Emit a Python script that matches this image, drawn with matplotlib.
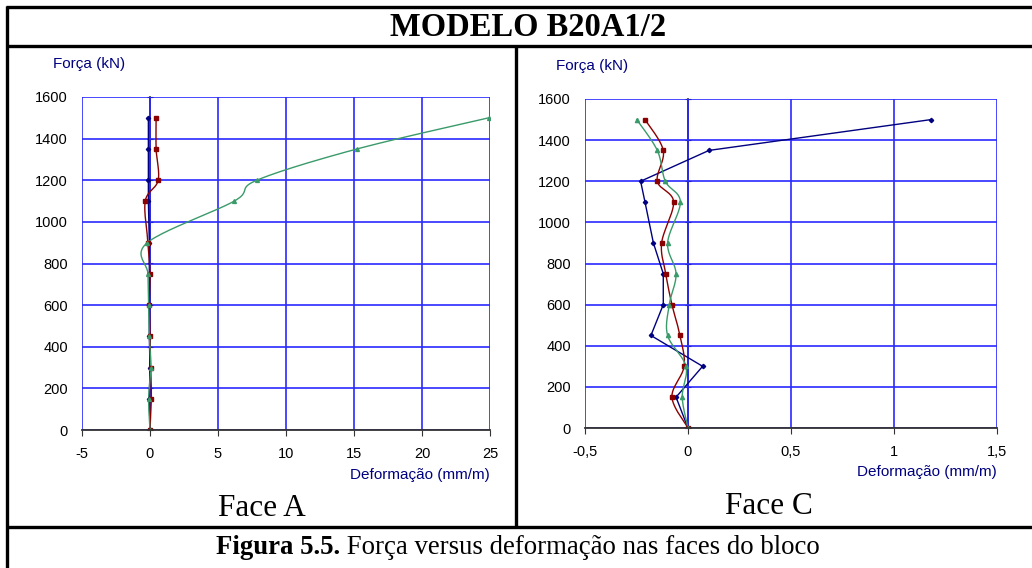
import numpy as np
import matplotlib
matplotlib.use('Agg')
from matplotlib import pyplot as plt
from matplotlib.lines import Line2D

plt.rcParams['font.family'] = ['Liberation Sans', 'DejaVu Sans']

# Força aplicada em cada leitura (kN)
forca = [0, 150, 300, 450, 600, 750, 900, 1100, 1200, 1350, 1500]

# Face A - deformações (mm/m)
faceA_azul = [0, -0.05, 0, -0.05, -0.05, -0.05, -0.05, -0.12, -0.12, -0.12, -0.12]
faceA_verm = [0, 0.1, 0.05, 0, -0.05, 0, -0.15, -0.35, 0.6, 0.45, 0.45]
faceA_verde = [0, -0.1, 0.05, -0.05, -0.1, -0.15, -0.2, 6.2, 7.85, 15.2, 24.9]

# Face C - deformações (mm/m)
faceC_azul = [0, -0.058, 0.071, -0.18, -0.12, -0.12, -0.168, -0.209, -0.23, 0.102, 1.181]
faceC_verm = [0, -0.078, -0.019, -0.039, -0.078, -0.108, -0.128, -0.07, -0.149, -0.12, -0.209]
faceC_verde = [0, -0.028, -0.01, -0.099, -0.091, -0.058, -0.099, -0.037, -0.11, -0.149, -0.249]

xticksA = [-5, 0, 5, 10, 15, 20, 25]
xticksC = [-0.5, 0, 0.5, 1, 1.5]
xlabelsC = ['-0,5', '0', '0,5', '1', '1,5']
yticks = [0, 200, 400, 600, 800, 1000, 1200, 1400, 1600]

AZUL = '#000080'
VERM = '#8b0000'
VERDE = '#3a9a6a'
GRADE = '#2a2aff'


def suaviza(ax, xs, ys, n=24):
    # curva suave tipo Excel: Bezier com pontos de controle de Catmull-Rom,
    # calculada em coordenadas de tela
    pts = ax.transData.transform(np.column_stack([xs, ys]))
    p = np.vstack([pts[0], pts, pts[-1]])
    t = np.linspace(0, 1, n)[:, None]
    out = [pts[:1]]
    for i in range(1, len(p) - 2):
        p0, p1, p2, p3 = p[i - 1], p[i], p[i + 1], p[i + 2]
        c1 = p1 + (p2 - p0) / 6
        c2 = p2 - (p3 - p1) / 6
        seg = ((1 - t) ** 3) * p1 + 3 * ((1 - t) ** 2) * t * c1 \
            + 3 * (1 - t) * t ** 2 * c2 + t ** 3 * p2
        out.append(seg[1:])
    curva = ax.transData.inverted().transform(np.vstack(out))
    return curva[:, 0], curva[:, 1]


def serie(ax, xs, ys, cor, marcador, ms, suave=True):
    if suave:
        cx, cy = suaviza(ax, xs, ys)
        ax.plot(cx, cy, color=cor, lw=1.0, zorder=3)
    else:
        ax.plot(xs, ys, color=cor, lw=1.0, zorder=3)
    ax.plot(xs, ys, ls='none', marker=marcador, ms=ms, color=cor, zorder=4)


def prepara(ax, xlim, xticks, xlabels):
    ax.set_xlim(xlim)
    ax.set_ylim(0, 1600)
    ax.set_xticks(xticks)
    ax.set_xticklabels(xlabels, fontsize=10.5)
    ax.set_yticks(yticks)
    ax.set_yticklabels([str(v) for v in yticks], fontsize=10.5)
    ax.grid(True, color=GRADE, lw=1.2)
    ax.set_axisbelow(True)
    for lado in ['top', 'right', 'left']:
        ax.spines[lado].set_visible(False)
    ax.spines['bottom'].set_color('#333333')
    ax.spines['bottom'].set_linewidth(1.3)
    ax.spines['bottom'].set_zorder(5)
    ax.tick_params(axis='y', length=0, pad=10)
    ax.tick_params(axis='x', length=4, direction='out', pad=8, color='#333333')
    # eixo vertical em x = 0, com marcas de escala
    pos0 = (0 - xlim[0]) / (xlim[1] - xlim[0])
    eixo = ax.secondary_yaxis(pos0)
    eixo.set_yticks(yticks)
    eixo.tick_params(length=5, direction='inout', labelleft=False, labelright=False,
                     color='black')
    eixo.spines['left'].set_color('black')
    eixo.spines['left'].set_linewidth(1.1)


fig = plt.figure(figsize=(10.32, 5.68), dpi=100)

axA = fig.add_axes([82 / 1032, 1 - 430 / 568, 408 / 1032, 333 / 568])
axC = fig.add_axes([585 / 1032, 1 - 428 / 568, 412 / 1032, 329 / 568])

prepara(axA, (-5, 25), xticksA, [str(v) for v in xticksA])
prepara(axC, (-0.5, 1.5), xticksC, xlabelsC)

serie(axA, faceA_azul, forca, AZUL, 'D', 2.2, suave=False)
serie(axA, faceA_verm, forca, VERM, 's', 3)
serie(axA, faceA_verde, forca, VERDE, '^', 2.8)

serie(axC, faceC_azul, forca, AZUL, 'D', 2.2, suave=False)
serie(axC, faceC_verm, forca, VERM, 's', 3.2)
serie(axC, faceC_verde, forca, VERDE, '^', 3)

for ax in (axA, axC):
    ax.text(1.0, -0.135, 'Deformação (mm/m)', transform=ax.transAxes,
            ha='right', va='center', fontsize=11, color=AZUL)
    ax.text(-0.07, 1.10, 'Força (kN)', transform=ax.transAxes,
            ha='left', va='center', fontsize=11, color=AZUL)

# moldura da tabela
def linha(x0, y0, x1, y1):
    fig.add_artist(Line2D([x0 / 1032, x1 / 1032], [1 - y0 / 568, 1 - y1 / 568],
                          color='black', lw=2.4, solid_capstyle='butt',
                          transform=fig.transFigure))

linha(6, 7, 1032, 7)
linha(6, 46, 1032, 46)
linha(7, 6, 7, 568)
linha(516, 46, 516, 527)
linha(6, 527, 1032, 527)

serif = ['Liberation Serif', 'DejaVu Serif']
fig.text(528 / 1032, 1 - 27 / 568, 'MODELO B20A1/2', ha='center', va='center',
         fontsize=23.5, fontweight='bold', family=serif)
fig.text(262 / 1032, 1 - 509 / 568, 'Face A', ha='center', va='center',
         fontsize=22.5, family=serif)
fig.text(769 / 1032, 1 - 506 / 568, 'Face C', ha='center', va='center',
         fontsize=22.5, family=serif)

# legenda da figura: parte em negrito seguida do texto normal
fig.canvas.draw()
r = fig.canvas.get_renderer()
neg = fig.text(0, 1 - 548 / 568, 'Figura 5.5.', ha='left', va='center',
               fontsize=19.3, fontweight='bold', family=serif)
resto = fig.text(0, 1 - 548 / 568, ' Força versus deformação nas faces do bloco',
                 ha='left', va='center', fontsize=19.3, family=serif)
w1 = neg.get_window_extent(r).width
w2 = resto.get_window_extent(r).width
x0 = 518 - (w1 + w2) / 2
neg.set_x(x0 / 1032)
resto.set_x((x0 + w1) / 1032)

fig.savefig('out.png', dpi=100)
